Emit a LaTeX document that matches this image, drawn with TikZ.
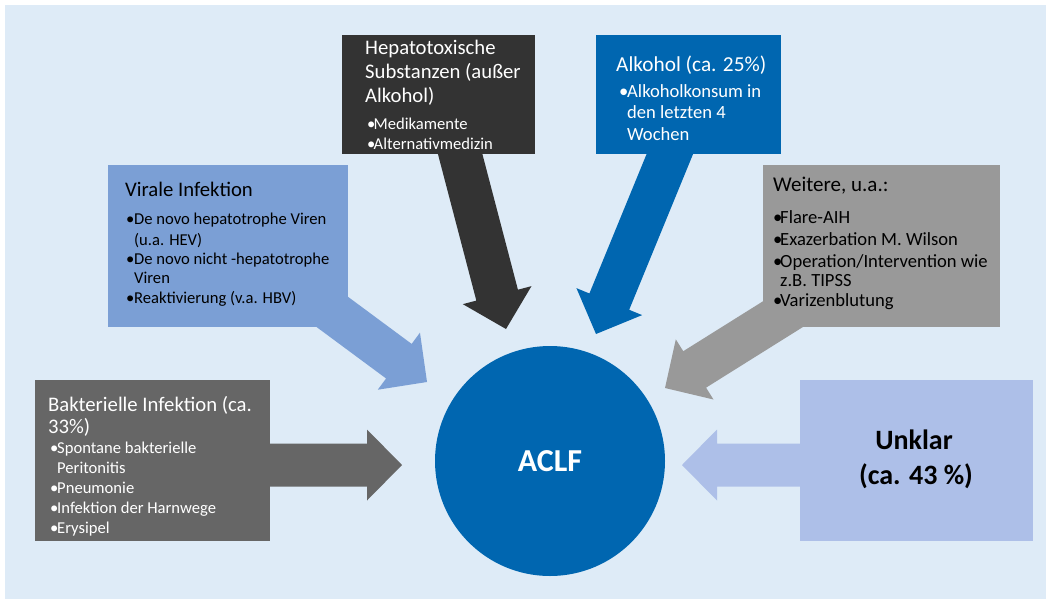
\documentclass[tikz,border=0pt]{standalone}
\usepackage{fontspec}
\setmainfont{Carlito}
\usetikzlibrary{calc}
\definecolor{bgblue}{HTML}{DEEBF7}
\definecolor{hepdark}{HTML}{333333}
\definecolor{alkblue}{HTML}{0066B0}
\definecolor{virblue}{HTML}{7B9FD5}
\definecolor{weigray}{HTML}{999999}
\definecolor{bakgray}{HTML}{666666}
\definecolor{unkblue}{HTML}{ADBFE8}
\newcommand\bulitem[1]{\makebox[#1pt][l]{•}}
\newcommand\blockarrow[3]{%
  \path ($(#2)!35pt!(#1)$) coordinate (#1-hb);
  \fill[#3] ($(#1)!21.5pt!90:(#2)$) -- ($(#1-hb)!21.5pt!90:(#2)$) -- ($(#1-hb)!35.5pt!90:(#2)$)
    -- (#2) -- ($(#1-hb)!35.5pt!-90:(#2)$) -- ($(#1-hb)!21.5pt!-90:(#2)$) -- ($(#1)!21.5pt!-90:(#2)$) -- cycle;
}
\tikzset{
  boxstyle/.style={rectangle, inner sep=0pt, draw=none},
  ttl/.style={anchor=base west, inner sep=0pt, font=\fontsize{20.7}{24}\selectfont},
  itm/.style={anchor=base west, inner sep=0pt, font=\fontsize{16.6}{19}\selectfont},
  itmL/.style={anchor=base west, inner sep=0pt, font=\fontsize{18.6}{21}\selectfont},
}
\begin{document}
\begin{tikzpicture}[x=1pt,y=-1pt]
\useasboundingbox (0,0) rectangle (1050,603);
\fill[white] (0,0) rectangle (1050,603);
\fill[bgblue] (5,5) rectangle (1046,599);
% arrow coordinates
\coordinate (hs) at (446,100);  \coordinate (ht) at (506,329);
\coordinate (as) at (692,100);  \coordinate (at) at (596,334);
\coordinate (vs) at (277,271);  \coordinate (vt) at (427,382);
\coordinate (ws) at (821.5,290);\coordinate (wt) at (665,388);
\coordinate (bs) at (200,465);  \coordinate (bt) at (402,465);
\coordinate (us) at (850,465);  \coordinate (ut) at (682,465);
\blockarrow{hs}{ht}{hepdark}
\blockarrow{as}{at}{alkblue}
\blockarrow{vs}{vt}{virblue}
\blockarrow{ws}{wt}{weigray}
\blockarrow{bs}{bt}{bakgray}
\blockarrow{us}{ut}{unkblue}
% boxes
\node[boxstyle, fill=hepdark, minimum width=193pt, minimum height=119pt] (hep) at (438.5,94.5) {};
\node[boxstyle, fill=alkblue, minimum width=185pt, minimum height=119pt] (alk) at (688.5,94.5) {};
\node[boxstyle, fill=virblue, minimum width=240pt, minimum height=162pt] (vir) at (228,246) {};
\node[boxstyle, fill=weigray, minimum width=237pt, minimum height=162pt] (wei) at (881.5,246) {};
\node[boxstyle, fill=bakgray, minimum width=235pt, minimum height=161pt] (bak) at (152.5,460.5) {};
\node[boxstyle, fill=unkblue, minimum width=233pt, minimum height=161pt] (unk) at (916.5,460.5) {};
\node[circle, fill=alkblue, minimum size=230pt, inner sep=0pt] (aclf) at (550,461) {};
\node[text=white, font=\fontsize{32}{38}\selectfont\bfseries] (aclf-t) at (550,461) {ACLF};
% Hepatotoxische
\node[ttl, text=white] (hep1) at (365,54) {Hepatotoxische};
\node[ttl, text=white] (hep2) at (365,78) {Substanzen (außer};
\node[ttl, text=white] (hep3) at (365,102) {Alkohol)};
\node[itm, text=white] (hep4) at (367,129) {\bulitem{6.5}Medikamente};
\node[itm, text=white] (hep5) at (367,149) {\bulitem{6.5}Alternativmedizin};
% Alkohol
\node[ttl, font=\fontsize{21.3}{24}\selectfont, text=white] (alk1) at (616,71) {Alkohol (ca. 25\%)};
\node[itmL, text=white] (alk2) at (619,97) {\bulitem{8}Alkoholkonsum in};
\node[itmL, text=white] (alk3) at (627,118) {den letzten 4};
\node[itmL, text=white] (alk4) at (627,140) {Wochen};
% Virale
\node[ttl] (vir1) at (125,196) {Virale Infektion};
\node[itm] (vir2) at (126,224) {\bulitem{8}De novo hepatotrophe Viren};
\node[itm] (vir3) at (134,245) {(u.a. HEV)};
\node[itm] (vir4) at (126,264) {\bulitem{8}De novo nicht -hepatotrophe};
\node[itm] (vir5) at (134,283) {Viren};
\node[itm] (vir6) at (126,303) {\bulitem{8}Reaktivierung (v.a. HBV)};
% Weitere
\node[ttl, font=\fontsize{21}{24}\selectfont] (wei1) at (773,191) {Weitere, u.a.:};
\node[itmL] (wei2) at (773,223) {\bulitem{7}Flare-AIH};
\node[itmL] (wei3) at (773,245) {\bulitem{7}Exazerbation M. Wilson};
\node[itmL] (wei4) at (773,267) {\bulitem{7}Operation/Intervention wie};
\node[itmL] (wei5) at (780,286) {z.B. TIPSS};
\node[itmL] (wei6) at (773,306) {\bulitem{7}Varizenblutung};
% Bakterielle
\node[ttl, text=white] (bak1) at (48,411) {Bakterielle Infektion (ca.};
\node[ttl, text=white] (bak2) at (48,433) {33\%)};
\node[itm, text=white] (bak3) at (50,453) {\bulitem{7}Spontane bakterielle};
\node[itm, text=white] (bak4) at (57,473) {Peritonitis};
\node[itm, text=white] (bak5) at (50,493) {\bulitem{7}Pneumonie};
\node[itm, text=white] (bak6) at (50,513) {\bulitem{7}Infektion der Harnwege};
\node[itm, text=white] (bak7) at (50,533) {\bulitem{7}Erysipel};
% Unklar
\node[anchor=base, inner sep=0pt, font=\fontsize{28}{34}\selectfont\bfseries] (unk1) at (914,449) {Unklar};
\node[anchor=base, inner sep=0pt, font=\fontsize{28}{34}\selectfont\bfseries] (unk2) at (916,484) {(ca. 43 \%)};
\end{tikzpicture}
\end{document}
